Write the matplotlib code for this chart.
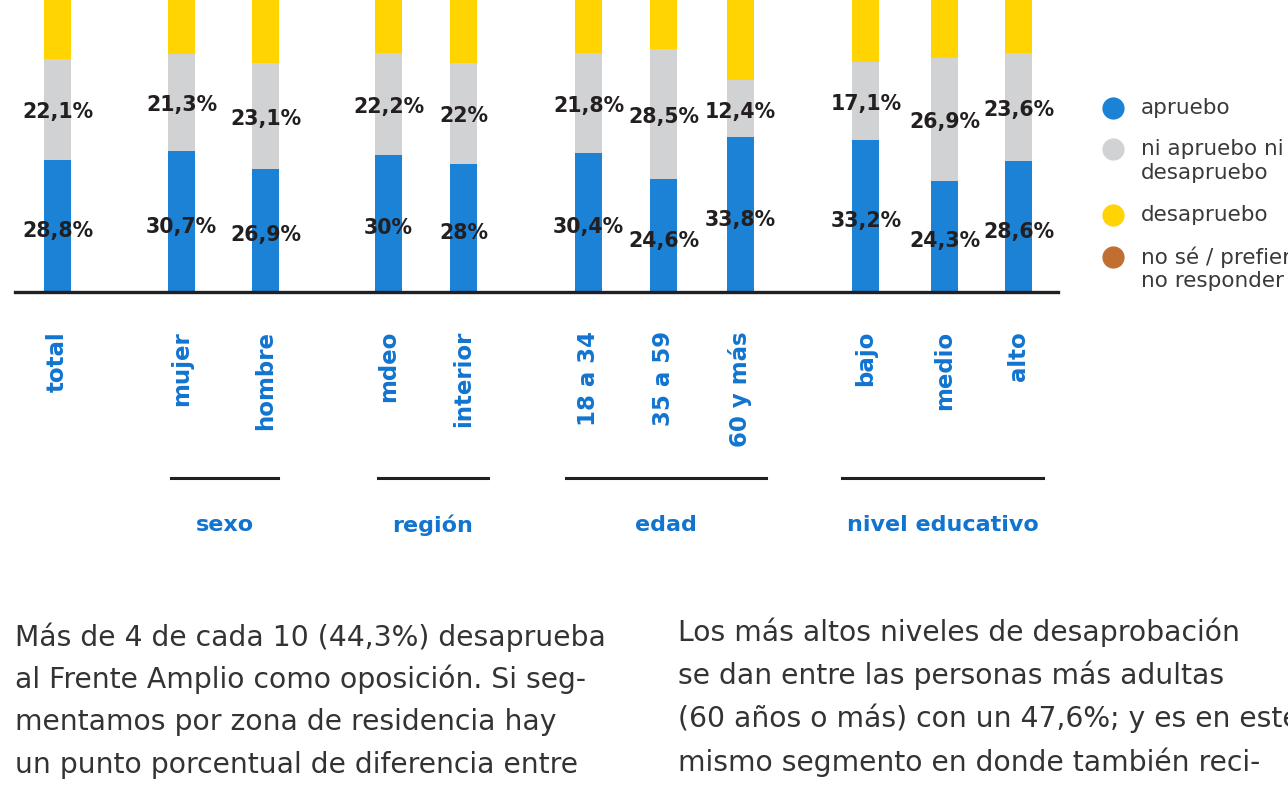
import matplotlib
matplotlib.use('Agg')
import matplotlib.pyplot as plt
from matplotlib.lines import Line2D

# datos (porcentajes)
categorias = ['total', 'mujer', 'hombre', 'mdeo', 'interior',
              '18 a 34', '35 a 59', '60 y más', 'bajo', 'medio', 'alto']
apruebo = [28.8, 30.7, 26.9, 30, 28, 30.4, 24.6, 33.8, 33.2, 24.3, 28.6]
ni_ni = [22.1, 21.3, 23.1, 22.2, 22, 21.8, 28.5, 12.4, 17.1, 26.9, 23.6]
# parte superior recortada en la imagen: valores estimados
desaprueba = [44.3, 43.5, 45.2, 43.8, 44.8, 44.0, 43.0, 47.6, 45.0, 44.5, 43.7]
no_sabe = [4.8, 4.5, 4.8, 4.0, 5.2, 3.8, 3.9, 6.2, 4.7, 4.3, 4.1]

grupos = ['sexo', 'región', 'edad', 'nivel educativo']
leyenda = ['apruebo', 'ni apruebo ni\ndesapruebo', 'desapruebo',
           'no sé / prefiero\nno responder']

texto_izq = ['Más de 4 de cada 10 (44,3%) desaprueba',
             'al Frente Amplio como oposición. Si seg-',
             'mentamos por zona de residencia hay',
             'un punto porcentual de diferencia entre']
texto_der = ['Los más altos niveles de desaprobación',
             'se dan entre las personas más adultas',
             '(60 años o más) con un 47,6%; y es en este',
             'mismo segmento en donde también reci-']

colores = ['#1b82d5', '#d1d2d4', '#ffd400', '#c06f30']
azul_txt = '#1174cf'
oscuro = '#231f20'

# layout en pixeles
W, H = 1288, 788
x_barras = [57.5, 181.5, 265.5, 388.5, 463.5, 588.5, 663.5, 740.5, 866, 945, 1018.5]
lineas_grupo = [(171, 278), (378, 488), (566, 766), (842, 1043)]
base_px = 292
px_pct = 4.58


def fx(px):
    return px / W


def fy(py):
    return 1 - py / H


fig = plt.figure(figsize=(W / 100, H / 100), dpi=100)
ax = fig.add_axes([0, fy(base_px), 1, base_px / H])
ax.set_xlim(0, W)
ax.set_ylim(0, base_px / px_pct)
ax.axis('off')

abajo = [0] * len(categorias)
for serie, color in zip([apruebo, ni_ni, desaprueba, no_sabe], colores):
    ax.bar(x_barras, serie, width=27, bottom=abajo, color=color, linewidth=0)
    abajo = [b + v for b, v in zip(abajo, serie)]


def fmt(v):
    return f'{v:g}'.replace('.', ',') + '%'


for x, a, n in zip(x_barras, apruebo, ni_ni):
    ax.text(x, a / 2 - 1.1, fmt(a), ha='center', va='center',
            fontsize=14.8, fontweight='bold', color=oscuro)
    ax.text(x, a + n / 2 - 0.6, fmt(n), ha='center', va='center',
            fontsize=14.8, fontweight='bold', color=oscuro)

# linea base
fig.add_artist(Line2D([fx(15), fx(1058)], [fy(292), fy(292)],
                      lw=2.4, color=oscuro))

# etiquetas de categorias
for x, c in zip(x_barras, categorias):
    fig.text(fx(x), fy(331), c, rotation=90, ha='center', va='top',
             fontsize=16.5, fontweight='bold', color=azul_txt)

# grupos
for (a, b), g in zip(lineas_grupo, grupos):
    fig.add_artist(Line2D([fx(a), fx(b)], [fy(478), fy(478)],
                          lw=2.2, color=oscuro))
    fig.text(fx((a + b) / 2), fy(525), g, ha='center', va='center',
             fontsize=16, fontweight='bold', color=azul_txt)

# leyenda
ley_y = [108, 149, 215, 257]
for y, lab, color in zip(ley_y, leyenda, colores):
    fig.add_artist(Line2D([fx(1113)], [fy(y)], marker='o', markersize=16,
                          markerfacecolor=color, markeredgewidth=0))
    for i, linea in enumerate(lab.split('\n')):
        fig.text(fx(1141), fy(y + 24 * i), linea, ha='left', va='center',
                 fontsize=15.5, color='#3a3a3a')

# texto inferior
for i, linea in enumerate(texto_izq):
    fig.text(fx(15), fy(637 + 42.7 * i), linea, ha='left', va='center',
             fontsize=20.3, color='#333333')
for i, linea in enumerate(texto_der):
    fig.text(fx(678), fy(632 + 43.3 * i), linea, ha='left', va='center',
             fontsize=20.3, color='#333333')

fig.savefig('out.png', dpi=100)
